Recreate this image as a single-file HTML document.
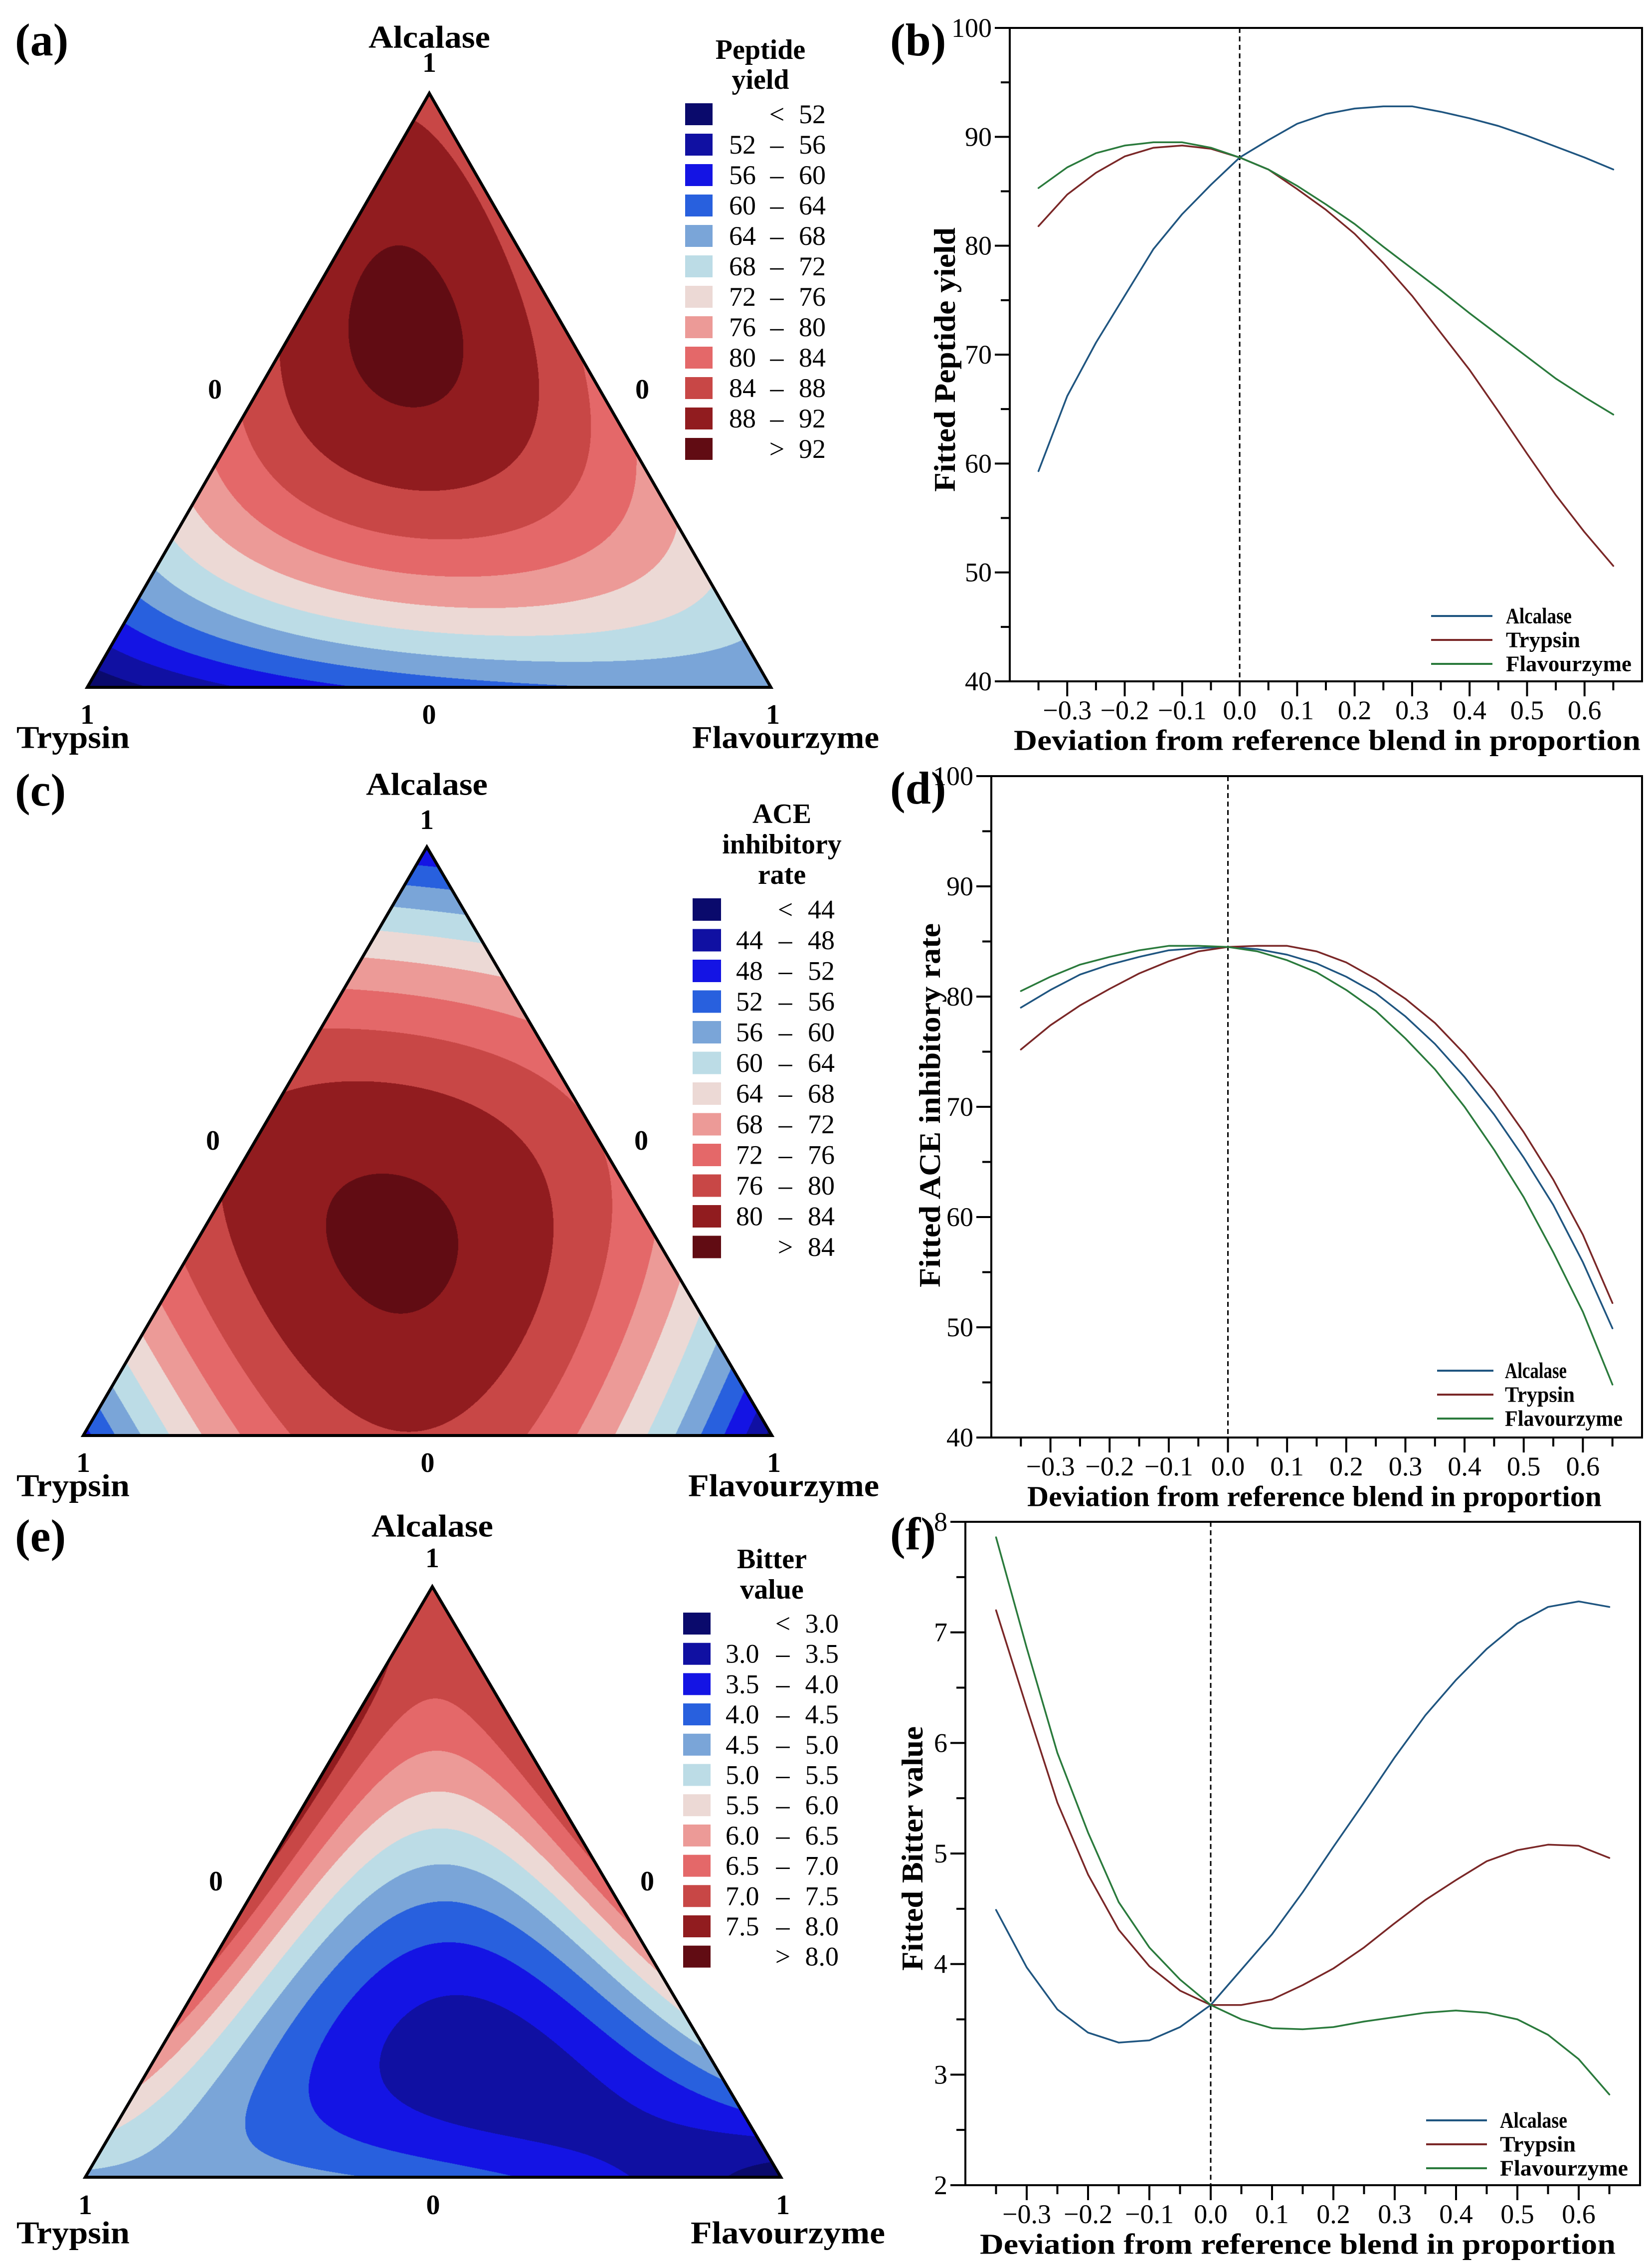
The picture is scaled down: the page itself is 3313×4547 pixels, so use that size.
<!DOCTYPE html>
<html><head><meta charset="utf-8"><style>
html,body{margin:0;padding:0;background:#fff}
body{width:3313px;height:4547px;position:relative;overflow:hidden}
canvas{position:absolute}
svg{position:absolute;left:0;top:0;font-family:"Liberation Serif","DejaVu Serif",serif}
text{font-family:"Liberation Serif","DejaVu Serif",serif}
</style></head><body>
<canvas id="cv-a"></canvas>
<canvas id="cv-c"></canvas>
<canvas id="cv-e"></canvas>
<svg id="main" width="3313" height="4547" viewBox="0 0 3313 4547" font-family="Liberation Serif, serif"></svg>
<script>
// ---------- data ----------
const deviations = [-0.35,-0.3,-0.25,-0.2,-0.15,-0.1,-0.05,0,0.05,0.1,0.15,0.2,0.25,0.3,0.35,0.4,0.45,0.5,0.55,0.6,0.65];
const seriesNames = ["Alcalase","Trypsin","Flavourzyme"];
const peptideAlcalase = [59.3,66.2,71.1,75.4,79.7,82.9,85.6,88.1,89.7,91.2,92.1,92.6,92.8,92.8,92.3,91.7,91.0,90.1,89.1,88.1,87.0];
const peptideTrypsin = [81.8,84.7,86.7,88.2,89.0,89.2,88.9,88.1,87.0,85.2,83.3,81.1,78.4,75.4,72.0,68.6,64.8,60.9,57.1,53.7,50.6];
const peptideFlavourzyme = [85.3,87.2,88.5,89.2,89.5,89.5,89.0,88.1,87.0,85.5,83.8,82.0,79.9,77.9,75.9,73.8,71.8,69.8,67.8,66.1,64.5];
const aceAlcalase = [79.0,80.6,82.0,82.9,83.6,84.2,84.4,84.5,84.3,83.8,83.0,81.8,80.3,78.2,75.7,72.7,69.3,65.4,61.1,55.9,49.9];
const aceTrypsin = [75.2,77.4,79.2,80.7,82.1,83.2,84.1,84.5,84.6,84.6,84.1,83.1,81.6,79.8,77.6,74.8,71.5,67.7,63.4,58.4,52.2];
const aceFlavourzyme = [80.5,81.8,82.9,83.6,84.2,84.6,84.6,84.5,84.1,83.3,82.2,80.6,78.7,76.2,73.4,70.0,66.1,61.8,56.8,51.4,44.8];
const bitterAlcalase = [4.49,3.97,3.59,3.38,3.29,3.31,3.43,3.63,3.95,4.27,4.65,5.06,5.46,5.87,6.25,6.57,6.85,7.08,7.23,7.28,7.23];
const bitterTrypsin = [7.20,6.32,5.46,4.81,4.31,3.98,3.76,3.63,3.63,3.68,3.81,3.96,4.15,4.37,4.58,4.76,4.93,5.03,5.08,5.07,4.96];
const bitterFlavourzyme = [7.86,6.86,5.91,5.19,4.56,4.15,3.86,3.63,3.50,3.42,3.41,3.43,3.48,3.52,3.56,3.58,3.56,3.50,3.36,3.14,2.82];
const xTicks = [-0.3,-0.2,-0.1,0.0,0.1,0.2,0.3,0.4,0.5,0.6];
const yTicksPeptide = [40,50,60,70,80,90,100];
const yTicksAce = [40,50,60,70,80,90,100];
const yTicksBitter = [2,3,4,5,6,7,8];
const bandColors = ["#0a0a6c","#1010a2","#1414e4","#2860de","#7aa5d8","#bcdce6","#ecd9d5","#ec9a97","#e46869","#c84746","#911c1f","#610c13"];
const peptideThresholds = [52,56,60,64,68,72,76,80,84,88,92];
const aceThresholds = [44,48,52,56,60,64,68,72,76,80,84];
const bitterThresholds = [3.0,3.5,4.0,4.5,5.0,5.5,6.0,6.5,7.0,7.5,8.0];
const lineColors = ["#1f5580","#7a2727","#2a7a3c"];

const NS = "http://www.w3.org/2000/svg";
const svg = document.getElementById("main");
function mk(tag, attrs, parent){ const e=document.createElementNS(NS,tag); for(const k in attrs) e.setAttribute(k,attrs[k]); (parent||svg).appendChild(e); return e; }
function txt(s, attrs, parent){ const e=mk("text",attrs,parent); e.setAttribute("font-family","Liberation Serif, serif"); e.textContent=s; return e; }

// ---------- mixture model fitted from trace data ----------
function terms(a,t,f){ return [a,t,f,a*t,a*f,t*f,a*t*f,a*t*(a-t),a*f*(a-f),t*f*(t-f)]; }
function fitModel(sA,sT,sF){
  const rows=[], ys=[];
  const sets=[sA,sT,sF];
  for(let i=0;i<3;i++){
    for(let k=0;k<deviations.length;k++){
      const d=deviations[k]; const xi=1/3+d, xo=1/3-d/2;
      const c=[xo,xo,xo]; c[i]=xi;
      rows.push(terms(c[0],c[1],c[2])); ys.push(sets[i][k]);
    }
  }
  const n=10; const M=[]; const v=[];
  for(let i=0;i<n;i++){ M.push(new Array(n).fill(0)); v.push(0); }
  rows.forEach((r,j)=>{ for(let p=0;p<n;p++){ v[p]+=r[p]*ys[j]; for(let q=0;q<n;q++) M[p][q]+=r[p]*r[q]; } });
  for(let p=0;p<n;p++) M[p][p]+=1e-7;
  for(let c=0;c<n;c++){
    let piv=c; for(let r=c+1;r<n;r++) if(Math.abs(M[r][c])>Math.abs(M[piv][c])) piv=r;
    [M[c],M[piv]]=[M[piv],M[c]]; [v[c],v[piv]]=[v[piv],v[c]];
    for(let r=0;r<n;r++){ if(r===c) continue; const fct=M[r][c]/M[c][c]; for(let q=c;q<n;q++) M[r][q]-=fct*M[c][q]; v[r]-=fct*v[c]; }
  }
  const b=v.map((x,i)=>x/M[i][i]);
  return (a,t,f)=>{ const tt=terms(a,t,f); let s=0; for(let i=0;i<n;i++) s+=b[i]*tt[i]; return s; };
}

// ---------- ternary panel ----------
function ternary(id, cfg){
  const {A,T,F,thr,model}=cfg;
  const x0=Math.floor(T[0]), x1=Math.ceil(F[0]), y0=Math.floor(A[1]), y1=Math.ceil(T[1]);
  const cv=document.getElementById(id);
  cv.width=x1-x0; cv.height=y1-y0; cv.style.left=x0+"px"; cv.style.top=y0+"px";
  const ctx=cv.getContext("2d"); const img=ctx.createImageData(cv.width,cv.height); const D=img.data;
  const rgb=bandColors.map(h=>[parseInt(h.substr(1,2),16),parseInt(h.substr(3,2),16),parseInt(h.substr(5,2),16)]);
  for(let py=0;py<cv.height;py++){
    const y=y0+py+0.5; const a=(T[1]-y)/(T[1]-A[1]); if(a<0||a>1) continue;
    for(let px=0;px<cv.width;px++){
      const x=x0+px+0.5;
      const f=(x-a*A[0]-(1-a)*T[0])/(F[0]-T[0]); const t=1-a-f;
      if(f<0||t<0) continue;
      const val=model(a,t,f); let k=0; while(k<thr.length && val>=thr[k]) k++;
      const c=rgb[k]; const o=(py*cv.width+px)*4; D[o]=c[0];D[o+1]=c[1];D[o+2]=c[2];D[o+3]=255;
    }
  }
  ctx.putImageData(img,0,0);
  const g=mk("g",{});
  
  
  const tri=mk("polygon",{points:`${A[0]},${A[1]} ${T[0]},${T[1]} ${F[0]},${F[1]}`,fill:"none",stroke:"#000","stroke-width":6,"stroke-linejoin":"miter"},g);
  
  
  const L=cfg.lab;
  const bold={"font-weight":"bold","font-size":64,"text-anchor":"middle","dominant-baseline":"central"};
  const pl=txt(cfg.panel,{x:30,y:L.panelY,"font-size":92,"font-weight":"bold","dominant-baseline":"central"},g);
   
  const al=txt("Alcalase",Object.assign({},bold,{x:A[0],y:L.alcY,textLength:244,lengthAdjust:"spacingAndGlyphs"}),g);
   
  const items=[["1",A[0],L.oneY,"apex-tick-1"],["0",L.zl,L.zY,"left-edge-tick-0"],["0",L.zr,L.zY,"right-edge-tick-0"],
               ["1",T[0],L.botY,"trypsin-tick-1"],["0",(T[0]+F[0])/2,L.botY,"base-tick-0"],["1",F[0]+4,L.botY,"flavourzyme-tick-1"]];
  items.forEach(it=>{ const e=txt(it[0],Object.assign({},bold,{"font-size":56,x:it[1],y:it[2]}),g);
      });
  const tr=txt("Trypsin",{x:33,y:L.nameY,"font-size":64,"font-weight":"bold","dominant-baseline":"central",textLength:L.trW,lengthAdjust:"spacingAndGlyphs"},g);
   
  const fl=txt("Flavourzyme",{x:L.flX,y:L.nameY,"font-size":64,"font-weight":"bold","dominant-baseline":"central",textLength:L.flW,lengthAdjust:"spacingAndGlyphs"},g);
   
  // legend
  const lg=mk("g",{},g);
   
  cfg.title.forEach((s,i)=>{ const e=txt(s,{x:L.legTitleX,y:L.legTitleY+i*L.legTitleDy,"font-size":56,"font-weight":"bold","text-anchor":"middle","dominant-baseline":"central"},lg);
      });
  const fmt=cfg.fmt;
  for(let k=0;k<12;k++){
    const yTop=L.swY+k*L.swDy;
    const r=mk("rect",{x:L.swX,y:yTop,width:L.swW,height:L.swH,fill:bandColors[k]},lg);
     
    const cy=yTop+L.swH/2;
    const st={"font-size":54,"dominant-baseline":"central"};
    if(k===0||k===11){
      const e1=txt(k===0?"<":">",Object.assign({},st,{x:L.dashX,y:cy,"text-anchor":"middle"}),lg);
       
      const e2=txt(fmt(k===0?thr[0]:thr[10]),Object.assign({},st,{x:L.rX,y:cy,"text-anchor":"end"}),lg);
       
    } else {
      const e1=txt(fmt(thr[k-1]),Object.assign({},st,{x:L.lX,y:cy}),lg);
       
      const e2=txt("–",Object.assign({},st,{x:L.dashX,y:cy,"text-anchor":"middle"}),lg);
       
      const e3=txt(fmt(thr[k]),Object.assign({},st,{x:L.rX,y:cy,"text-anchor":"end"}),lg);
       
    }
  }
}

// ---------- line chart ----------
function lineChart(cfg){
  const {L,R,Tp,B,ymin,ymax,yTicks,yMinorStep,series}=cfg;
  const xmin=-0.4,xmax=0.7;
  const X=v=>L+(v-xmin)/(xmax-xmin)*(R-L);
  const Y=v=>B-(v-ymin)/(ymax-ymin)*(B-Tp);
  const g=mk("g",{});
   
  const pl=txt(cfg.panel,{x:cfg.panelX,y:Tp+24,"font-size":92,"font-weight":"bold","dominant-baseline":"central"},g);
   
  const ref=mk("line",{x1:X(0),x2:X(0),y1:Tp,y2:B,stroke:"#000","stroke-width":3,"stroke-dasharray":"10,7"},g);
   
  series.forEach((s,i)=>{
    const d=deviations.map((dv,k)=>(k?"L":"M")+X(dv).toFixed(1)+","+Y(s[k]).toFixed(1)).join(" ");
    const p=mk("path",{d:d,fill:"none",stroke:lineColors[i],"stroke-width":3.5,"stroke-linejoin":"round","stroke-linecap":"round"},g);
     
  });
  const box=mk("rect",{x:L,y:Tp,width:R-L,height:B-Tp,fill:"none",stroke:"#000","stroke-width":4},g);
   
  // x ticks
  const xa=mk("g",{},g);
   
  for(let k=-7;k<=13;k++){
    const v=k*0.05; const major=(k%2===0);
    mk("line",{x1:X(v),x2:X(v),y1:B,y2:B+(major?30:18),stroke:"#000","stroke-width":4},xa);
  }
  xTicks.forEach(v=>{
    const s=(v<0?"−":"")+Math.abs(v).toFixed(1);
    const e=txt(s,{x:X(v),y:B+58,"font-size":54,"text-anchor":"middle","dominant-baseline":"central"},xa);
     
  });
  const xt=txt("Deviation from reference blend in proportion",{x:cfg.xtX,y:B+118,"font-size":58,"font-weight":"bold","dominant-baseline":"central",textLength:cfg.xtW,lengthAdjust:"spacingAndGlyphs"},xa);
   
  // y ticks
  const ya=mk("g",{},g);
   
  for(let v=ymin; v<=ymax+1e-9; v+=yMinorStep){
    const major=yTicks.some(t=>Math.abs(t-v)<1e-9);
    mk("line",{x1:L,x2:L-(major?30:18),y1:Y(v),y2:Y(v),stroke:"#000","stroke-width":4},ya);
  }
  yTicks.forEach(v=>{
    const e=txt(String(v),{x:L-36,y:Y(v),"font-size":54,"text-anchor":"end","dominant-baseline":"central"},ya);
     
  });
  const yc=(Tp+B)/2+cfg.ytOff;
  const yt=txt(cfg.ytitle,{x:0,y:0,"font-size":60,"font-weight":"bold","text-anchor":"middle","dominant-baseline":"central",transform:`translate(${cfg.ytX},${yc}) rotate(-90)`,textLength:cfg.ytW,lengthAdjust:"spacingAndGlyphs"},ya);
   
  // legend
  const lg=mk("g",{},g);
   
  const sc=cfg.legScale;
  seriesNames.forEach((n,i)=>{
    const y=cfg.legY+i*48;
    const l=mk("line",{x1:cfg.legX,x2:cfg.legX+cfg.legLen,y1:y,y2:y,stroke:lineColors[i],"stroke-width":4},lg);
     
    const t=txt(n,{x:cfg.legTextX,y:y,"font-size":44,"font-weight":"bold","dominant-baseline":"central",textLength:Math.round([135,152,257][i]*sc),lengthAdjust:"spacingAndGlyphs"},lg);
     
  });
}

const f0=v=>String(v), f1=v=>v.toFixed(1);
ternary("cv-a",{name:"peptide-yield",panel:"(a)",A:[861,187],T:[175,1378],F:[1546,1378],thr:peptideThresholds,
  model:fitModel(peptideAlcalase,peptideTrypsin,peptideFlavourzyme),title:["Peptide","yield"],fmt:f0,
  lab:{panelY:80,alcY:74,oneY:126,zl:431,zr:1288,zY:781,botY:1433,nameY:1478,trW:227,flX:1388,flW:375,
       legTitleX:1525,legTitleY:100,legTitleDy:60,swX:1374,swW:55,swY:207,swH:44,swDy:61,lX:1462,dashX:1558,rX:1656}});
ternary("cv-c",{name:"ace-inhibitory",panel:"(c)",A:[856,1698],T:[167,2878],F:[1548,2878],thr:aceThresholds,
  model:fitModel(aceAlcalase,aceTrypsin,aceFlavourzyme),title:["ACE","inhibitory","rate"],fmt:f0,
  lab:{panelY:1584,alcY:1572,oneY:1644,zl:427,zr:1286,zY:2287,botY:2933,nameY:2978,trW:227,flX:1380,flW:383,
       legTitleX:1568,legTitleY:1632,legTitleDy:61,swX:1389,swW:57,swY:1801,swH:45,swDy:61.5,lX:1476,dashX:1575,rX:1674}});
ternary("cv-e",{name:"bitter-value",panel:"(e)",A:[867,3181],T:[171,4365],F:[1566,4365],thr:bitterThresholds,
  model:fitModel(bitterAlcalase,bitterTrypsin,bitterFlavourzyme),title:["Bitter","value"],fmt:f1,
  lab:{panelY:3079,alcY:3059,oneY:3124,zl:433,zr:1298,zY:3772,botY:4421,nameY:4476,trW:227,flX:1385,flW:390,
       legTitleX:1548,legTitleY:3126,legTitleDy:61,swX:1370,swW:55,swY:3233,swH:44,swDy:60.7,lX:1455,dashX:1570,rX:1682}});

lineChart({name:"peptide-yield",panel:"(b)",panelX:1785,L:2025,R:3293,Tp:56,B:1366,ymin:40,ymax:100,yTicks:yTicksPeptide,yMinorStep:5,
  series:[peptideAlcalase,peptideTrypsin,peptideFlavourzyme],ytitle:"Fitted Peptide yield",ytX:1895,ytW:530,ytOff:10,
  xtX:2033,xtW:1257,legX:2870,legLen:123,legTextX:3020,legScale:0.98,legY:1235});
lineChart({name:"ace-inhibitory",panel:"(d)",panelX:1785,L:1988,R:3293,Tp:1556,B:2882,ymin:40,ymax:100,yTicks:yTicksAce,yMinorStep:5,
  series:[aceAlcalase,aceTrypsin,aceFlavourzyme],ytitle:"Fitted ACE inhibitory rate",ytX:1865,ytW:730,ytOff:-3,
  xtX:2060,xtW:1152,legX:2882,legLen:113,legTextX:3018,legScale:0.92,legY:2748});
lineChart({name:"bitter-value",panel:"(f)",panelX:1785,L:1936,R:3289,Tp:3051,B:4381,ymin:2,ymax:8,yTicks:yTicksBitter,yMinorStep:0.5,
  series:[bitterAlcalase,bitterTrypsin,bitterFlavourzyme],ytitle:"Fitted Bitter value",ytX:1830,ytW:490,ytOff:-10,
  xtX:1965,xtW:1275,legX:2860,legLen:122,legTextX:3008,legScale:1.0,legY:4251});
</script>
</body></html>
